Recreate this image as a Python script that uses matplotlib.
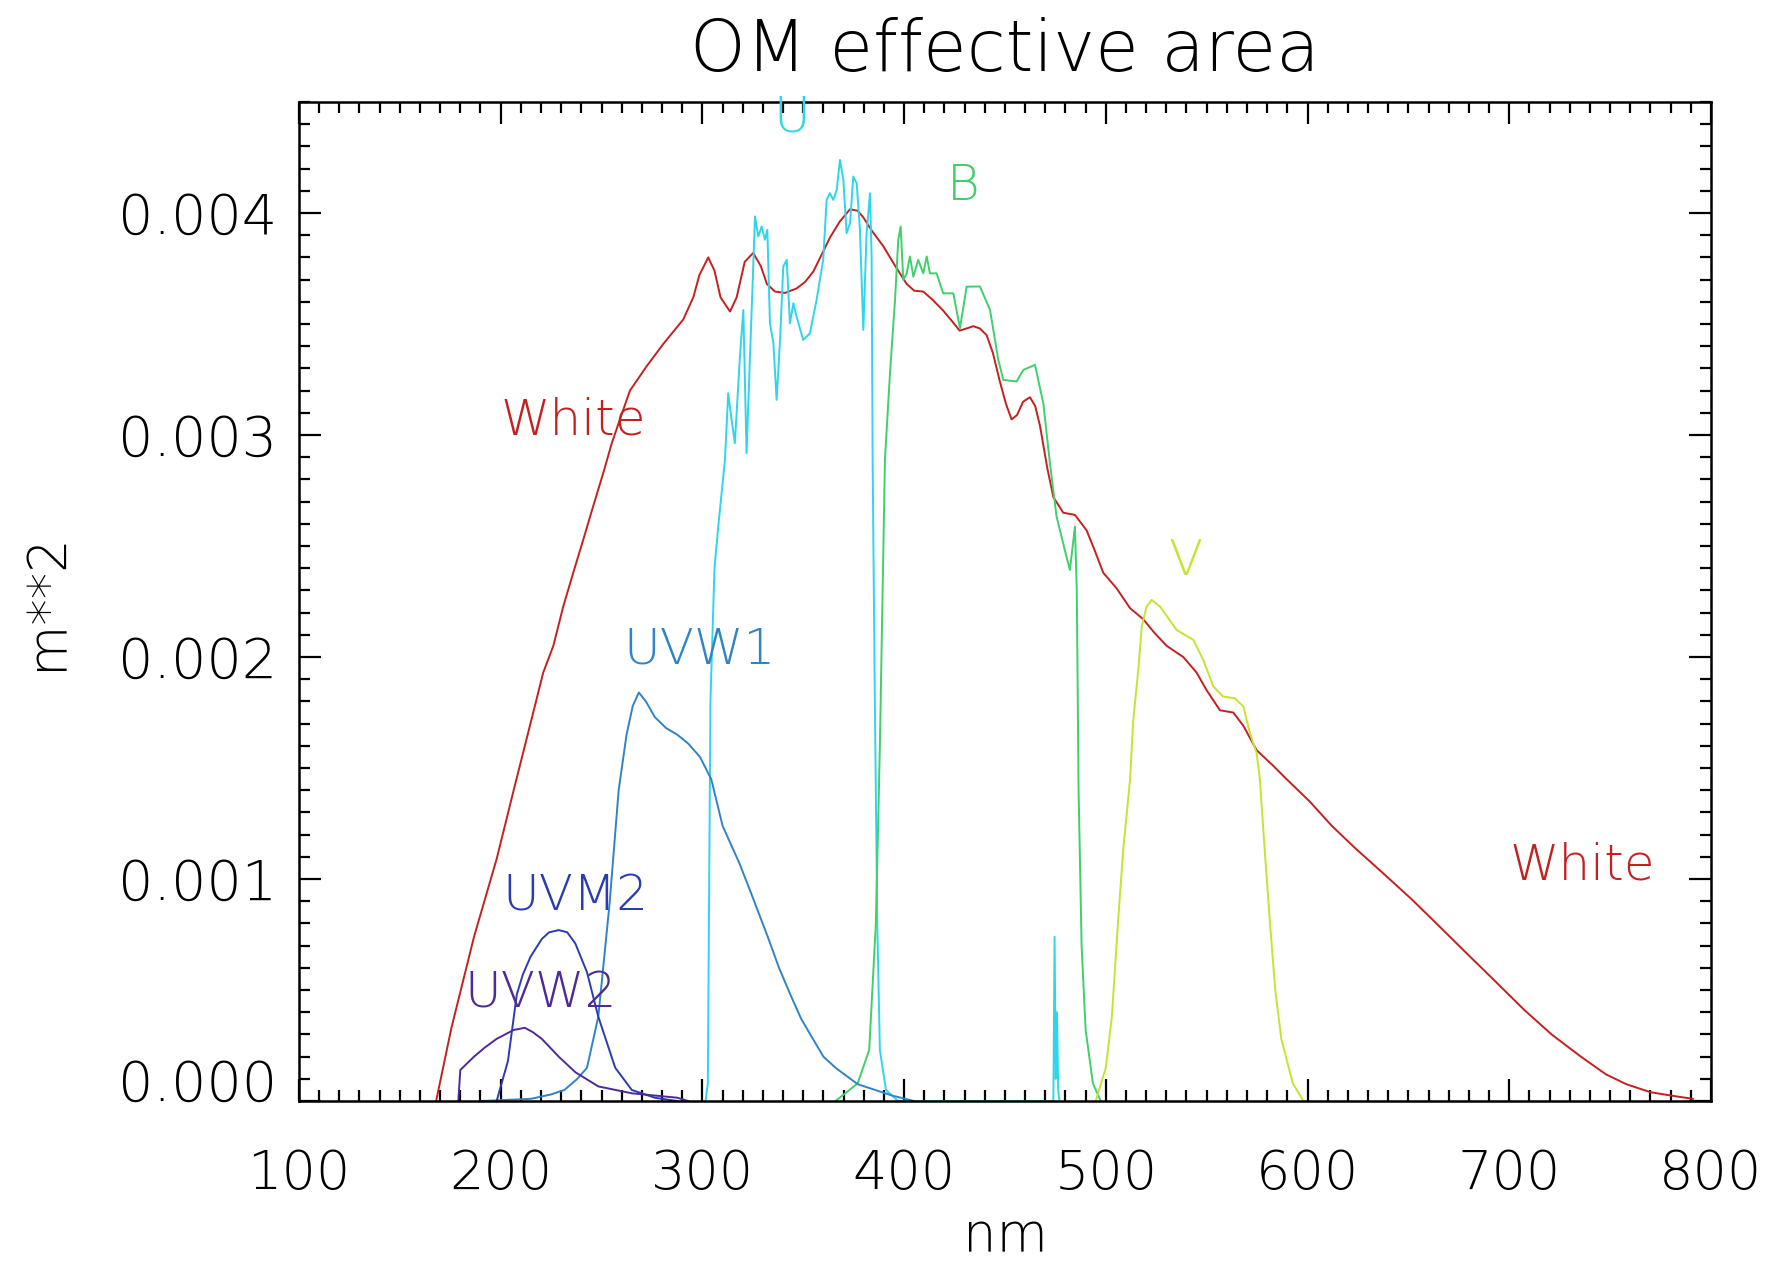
import matplotlib
matplotlib.use("Agg")
import matplotlib.pyplot as plt
from matplotlib.ticker import MultipleLocator, FormatStrFormatter

# effective area curves (nm, m**2)
white_nm = [168, 175.6, 186.8, 198, 207, 212, 217.8, 221.1, 226.1, 231.1, 236, 241, 245.9,
            250.9, 255, 259.1, 264.1, 272.4, 280.6, 290.5, 295.5, 298.5, 302.9, 306, 309,
            313.7, 317, 321, 325.2, 329, 332, 336, 341, 346.7, 351, 355, 359, 363.3, 368,
            373.2, 377, 379.8, 384, 389.7, 395, 401.3, 405, 409.5, 414, 419.4, 424, 427.5,
            431, 434.3, 437.5, 440.9, 444, 447.5, 450.5, 453.3, 456, 459, 462.4, 465, 467.4,
            471, 474, 478.9, 484.7, 490.5, 494.5, 498.7, 505.3, 512, 518.6, 524, 530.2,
            538.4, 545, 550, 556.6, 563.2, 568.2, 574.8, 583, 589.6, 601, 612, 623.5, 637,
            651.5, 665, 679.5, 693, 707.5, 721, 735.5, 748, 758, 770, 780, 791]
white_a = [0, 0.00033, 0.00074, 0.00109, 0.00142, 0.00160, 0.00181, 0.00193, 0.00205,
           0.00223, 0.00238, 0.00253, 0.00268, 0.00283, 0.00296, 0.00307, 0.00320, 0.00331,
           0.00341, 0.00352, 0.00362, 0.00372, 0.00380, 0.00374, 0.00362, 0.003556, 0.00362,
           0.00378, 0.00382, 0.00376, 0.00368, 0.003646, 0.00364, 0.00366, 0.00369,
           0.003736, 0.00381, 0.00389, 0.00396, 0.004017, 0.00401, 0.00398, 0.00392,
           0.00385, 0.00377, 0.00368, 0.00365, 0.003646, 0.00361, 0.00356, 0.00351, 0.00347,
           0.00348, 0.00349, 0.00348, 0.00345, 0.00337, 0.00324, 0.00314, 0.00307, 0.00309,
           0.00315, 0.00317, 0.00313, 0.00304, 0.00285, 0.00272, 0.00265, 0.00264, 0.00257,
           0.00248, 0.00238, 0.00231, 0.00222, 0.00217, 0.00211, 0.00205, 0.00200, 0.00193,
           0.00185, 0.00176, 0.00175, 0.00169, 0.00158, 0.00151, 0.00145, 0.00135, 0.00124,
           0.00114, 0.00103, 0.00091, 0.00079, 0.00066, 0.00054, 0.00041, 0.00030, 0.00020,
           0.00012, 0.000076, 0.00004, 0.000025, 0.00001]

u_nm = [301.6, 302.7, 304, 306, 308, 311.2, 312.8, 314.5, 316.1, 318.6, 320.3, 321.9, 323.6,
        326.1, 327.7, 329.4, 331.0, 332.2, 333.5, 335.2, 336.8, 338.5, 340.1, 341.8, 343.4,
        345.1, 346.7, 350.0, 353.3, 356.6, 359.9, 361.6, 363.2, 364.9, 366.6, 368.2, 369.9,
        371.5, 373.2, 374.8, 376.5, 378.1, 379.8, 381.4, 383.1, 383.9, 384.4, 385.5, 386.7,
        388, 391, 397,
        474, 474.6, 475.2, 475.8, 476.4, 477]
u_a = [0, 0.00008, 0.0018, 0.0024, 0.0026, 0.002888, 0.003188, 0.003068, 0.002963, 0.003353,
       0.003563, 0.002918, 0.003353, 0.003984, 0.003894, 0.003939, 0.003879, 0.003924,
       0.003503, 0.003413, 0.003158, 0.003428, 0.003759, 0.003789, 0.003503, 0.003593,
       0.003533, 0.003428, 0.003458, 0.003608, 0.003789, 0.004059, 0.004089, 0.004059,
       0.004104, 0.004239, 0.004149, 0.003909, 0.003954, 0.004164, 0.004134, 0.003924,
       0.003473, 0.003909, 0.004089, 0.003804, 0.002888, 0.0018, 0.0008, 0.00023, 0.00005, 0,
       0, 0.00074, 0.0001, 0.0004, 0.00005, 0]

b_nm = [366, 377, 382.7, 386, 388, 390.5, 393.0, 395.5, 397.1, 398.3, 399.6, 401.3, 402.9,
        404.6, 407.0, 409.5, 411.2, 412.8, 416.1, 419.4, 424.4, 427.7, 431.0, 437.6, 442.6,
        446.7, 449.2, 455.8, 459.1, 464.9, 469.0, 472.3, 475.6, 480.5, 482.2, 484.7, 485.6,
        486.5, 488, 490, 493.6, 497.5]
b_a = [0, 0.00008, 0.00023, 0.0008, 0.0016, 0.002888, 0.003278, 0.003608, 0.003879,
       0.003939, 0.003698, 0.003728, 0.003804, 0.003713, 0.003789, 0.003728, 0.003804,
       0.003728, 0.003728, 0.003638, 0.003638, 0.003481, 0.003668, 0.003669, 0.003563,
       0.003338, 0.003248, 0.003241, 0.003293, 0.003316, 0.003143, 0.002873, 0.002632,
       0.002452, 0.002392, 0.002587, 0.002302, 0.0014, 0.0007, 0.00032, 0.00008, 0]

v_nm = [495, 500, 503, 506, 508.7, 512, 513.6, 516.1, 517.8, 520.2, 522.7, 526.9, 535.1,
        543.4, 548.3, 553.3, 558.2, 564.0, 568.2, 571.5, 574.8, 576.4, 579, 581.5, 584, 587,
        592.7, 598]
v_a = [0, 0.00015, 0.00038, 0.0008, 0.00114, 0.001446, 0.001716, 0.001942, 0.002137,
       0.002227, 0.002257, 0.002227, 0.002122, 0.002077, 0.001987, 0.001867, 0.001822,
       0.001814, 0.001777, 0.001656, 0.001566, 0.001446, 0.0011, 0.00079, 0.0005, 0.00028,
       0.00008, 0]

uvw1_nm = [190, 215, 225, 231.6, 238, 242.8, 248.4, 254, 258.5, 262.4, 265.5, 268.5, 272,
           276.4, 282, 287.6, 293, 298.8, 304.4, 310, 318.4, 324, 332.4, 338, 343.6, 349,
           354.8, 360, 366, 377, 394, 405]
uvw1_a = [0, 0.00001, 0.00003, 0.00005, 0.0001, 0.00015, 0.00038, 0.00089, 0.0014, 0.00165,
          0.00178, 0.00184, 0.00180, 0.00173, 0.00168, 0.00165, 0.00161, 0.00155, 0.00145,
          0.00124, 0.00107, 0.00094, 0.00074, 0.0006, 0.00048, 0.00037, 0.00028, 0.0002,
          0.00015, 0.000076, 0.000025, 0]

uvm2_nm = [198, 203.6, 208, 211, 214.8, 220.4, 224, 228.8, 233, 237, 242.8, 248.4, 256.8,
           265, 276.4, 287.6]
uvm2_a = [0, 0.00018, 0.00048, 0.00057, 0.00065, 0.00073, 0.00076, 0.00077, 0.00076,
          0.00071, 0.00058, 0.00038, 0.00015, 0.00005, 0.000015, 0]

uvw2_nm = [179, 180, 186.8, 192, 198, 206.4, 212, 216, 220.4, 228.8, 237, 248.4, 265, 287.6, 293]
uvw2_a = [0, 0.00014, 0.0002, 0.00024, 0.00028, 0.00032, 0.00033, 0.00031, 0.00028, 0.0002,
          0.00013, 0.000066, 0.000035, 0.000015, 0]

yticks = [0, 0.001, 0.002, 0.003, 0.004]
xticks = [100, 200, 300, 400, 500, 600, 700, 800]

plt.rcParams['font.family'] = ['DejaVu Sans']
plt.rcParams['font.weight'] = 'light'
plt.rcParams['axes.titleweight'] = 'light'
plt.rcParams['axes.labelweight'] = 'light'

fig = plt.figure(figsize=(17.71, 12.65), dpi=100)
ax = fig.add_axes([0.1688, 0.1296, 0.7973, 0.7898])

red = '#c42020'
cyan = '#2ed6ea'
green = '#3fcf6c'
yellow = '#c8e232'
blue1 = '#2f84c8'
blue2 = '#2a3cb4'
purple = '#4e2a98'

lw = 1.4
ax.plot(white_nm, white_a, color=red, lw=lw)
ax.plot(u_nm, u_a, color=cyan, lw=lw)
ax.plot(b_nm, b_a, color=green, lw=lw)
ax.plot(v_nm, v_a, color=yellow, lw=lw)
ax.plot(uvw1_nm, uvw1_a, color=blue1, lw=lw)
ax.plot(uvm2_nm, uvm2_a, color=blue2, lw=lw)
ax.plot(uvw2_nm, uvw2_a, color=purple, lw=lw)

fs = 36
ax.text(200, 0.003, 'White', color=red, fontsize=fs)
ax.text(700, 0.001, 'White', color=red, fontsize=fs)
ax.text(335, 0.004365, 'U', color=cyan, fontsize=fs, clip_on=False)
ax.text(421, 0.00406, 'B', color=green, fontsize=fs)
ax.text(531, 0.00237, 'V', color=yellow, fontsize=fs)
ax.text(261, 0.00197, 'UVW1', color=blue1, fontsize=fs)
ax.text(201, 0.00086, 'UVM2', color=blue2, fontsize=fs)
ax.text(182, 0.00042, 'UVW2', color=purple, fontsize=fs)

ax.set_xlim(100, 800)
ax.set_ylim(0, 0.0045)
ax.set_xticks(xticks)
ax.set_yticks(yticks)
ax.xaxis.set_minor_locator(MultipleLocator(10))
ax.yaxis.set_minor_locator(MultipleLocator(0.0001))
ax.yaxis.set_major_formatter(FormatStrFormatter('%.3f'))

ax.tick_params(which='both', direction='in', top=True, right=True, width=1.6, colors='black')
ax.tick_params(which='major', length=16)
ax.tick_params(which='minor', length=8)
ax.tick_params(axis='x', which='major', labelsize=39, pad=34)
ax.tick_params(axis='y', which='major', labelsize=40, pad=16)
for s in ax.spines.values():
    s.set_linewidth(1.8)

# IDL puts the bottom y label a little above its tick
ax.get_yticklabels()[0].set_va('baseline')

ax.set_title('OM effective area', fontsize=51, pad=22)
ax.set_xlabel('nm', fontsize=38, labelpad=7)
ax.set_ylabel('m**2', fontsize=38, labelpad=32)

fig.savefig('out.png', dpi=100)
